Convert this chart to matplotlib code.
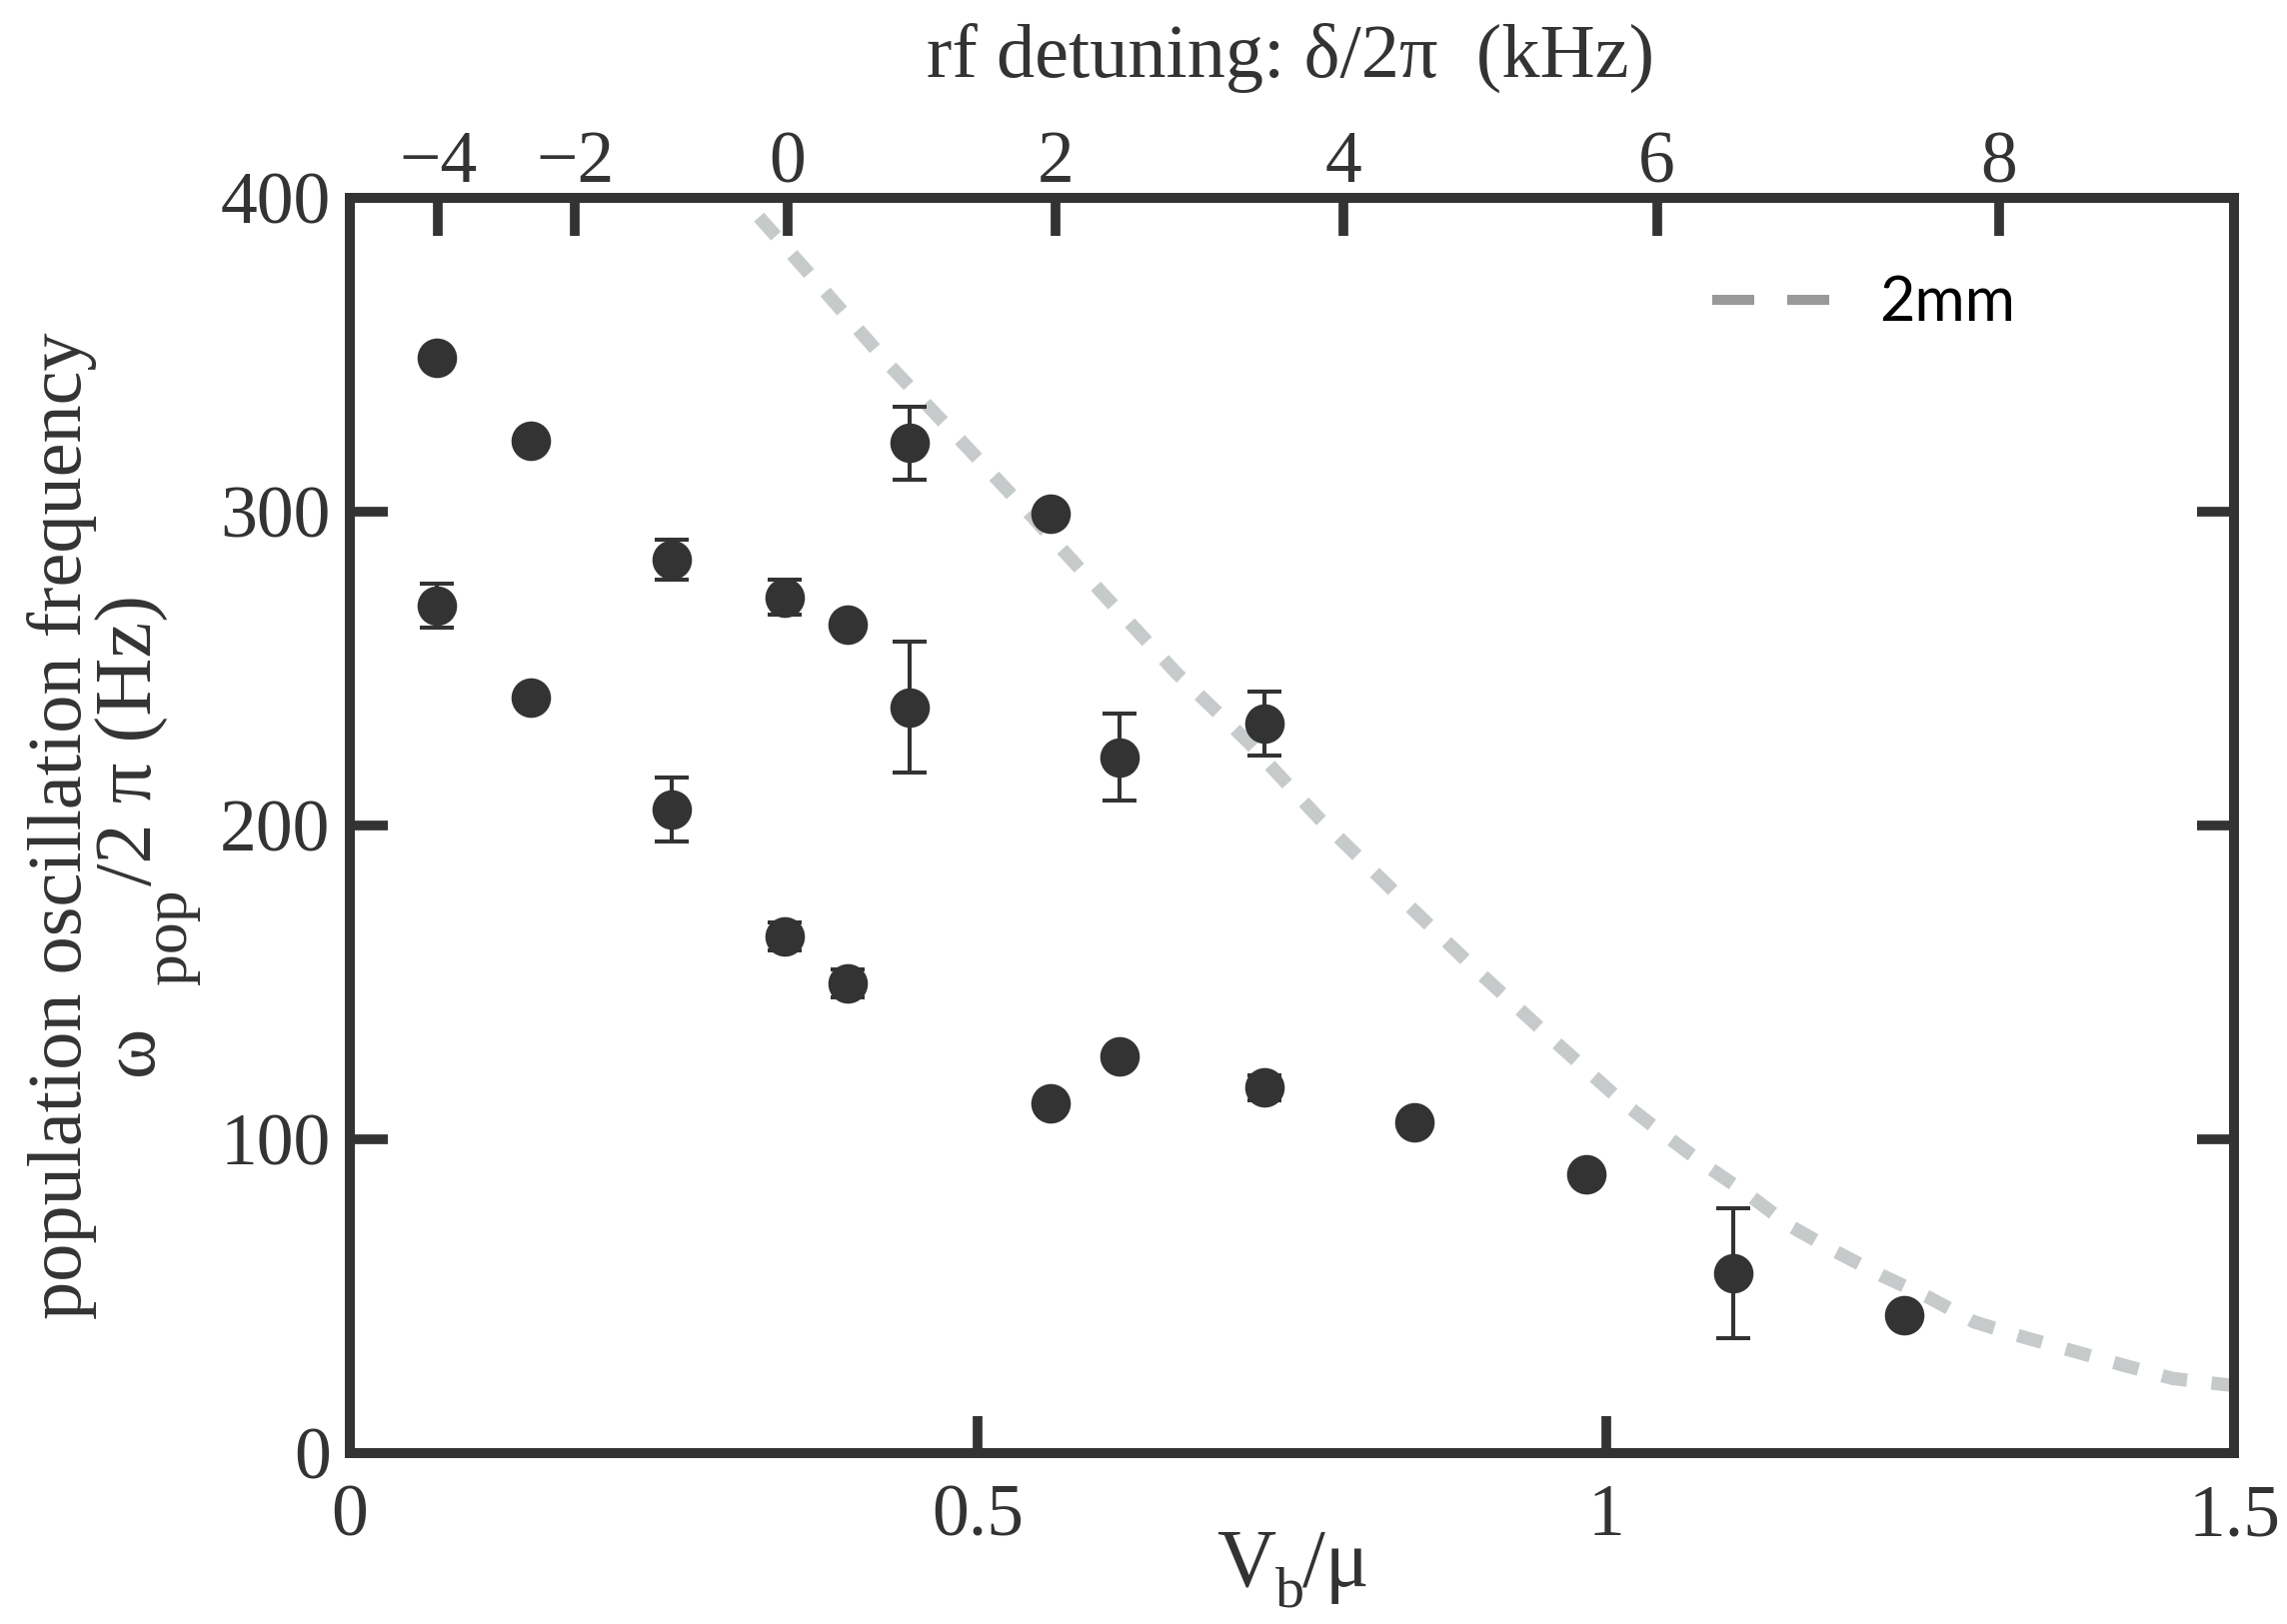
import numpy as np
import matplotlib.pyplot as plt
from matplotlib.lines import Line2D

plt.rcParams['font.family'] = 'Liberation Serif'

# measured points: V_b/mu, frequency (Hz), error bar (Hz)
vb = [0.069, 0.069, 0.144, 0.144, 0.256, 0.256, 0.346, 0.346, 0.396, 0.396, 0.446,
      0.446, 0.558, 0.613, 0.558, 0.613, 0.728, 0.728, 0.8475, 0.984, 1.101, 1.237]
freq = [349.1, 270.1, 322.7, 240.7, 284.7, 205.2, 272.7, 164.7, 263.9, 149.6, 321.9,
        237.7, 299.3, 221.8, 111.5, 126.5, 232.5, 116.5, 105.5, 88.9, 57.3, 43.9]
freq_err = [0, 7.1, 0, 0, 6.5, 10.2, 5.5, 4.5, 0, 4.5, 11.7,
            20.8, 0, 13.8, 0, 0, 10.3, 4.0, 0, 0, 20.8, 0]

# 2mm curve
curve_vb = [0.300, 0.322, 0.376, 0.430, 0.487, 0.543, 0.600, 0.658, 0.716, 0.772,
            0.831, 0.891, 0.952, 1.013, 1.046, 1.079, 1.113, 1.146, 1.182, 1.219,
            1.257, 1.293, 1.332, 1.373, 1.412, 1.451, 1.500]
curve_freq = [406.0, 395.6, 371.2, 346.5, 322.4, 298.5, 273.6, 248.6, 226.3, 202.1,
              179.1, 156.1, 133.8, 111.9, 101.6, 91.8, 82.5, 72.5, 64.4, 56.7,
              49.6, 41.8, 37.0, 32.4, 28.0, 23.8, 21.5]

# axes ticks
bottom_ticks = [0, 0.5, 1, 1.5]
bottom_labels = ['0', '0.5', '1', '1.5']
left_ticks = [0, 100, 200, 300, 400]
top_labels = ['\u22124', '\u22122', '0', '2', '4', '6', '8']
top_tick_at = [0.0704, 0.1794, 0.3483, 0.5620, 0.7910, 1.0405, 1.3127]

ink = '#333333'

fig = plt.figure(figsize=(22.88, 16.25), dpi=100)
ax = fig.add_axes([0.15297, 0.10523, 0.82387, 0.77292])

ax.plot(curve_vb, curve_freq, color='#c6cacb', lw=9.6, dashes=(1.9, 1.85), zorder=1)
ax.errorbar(vb, freq, yerr=freq_err, fmt='none', ecolor=ink, elinewidth=2.9,
            capsize=12, capthick=2.9, zorder=2)
ax.plot(vb, freq, 'o', color=ink, ms=27.5, mec=ink, zorder=3)

ax.set_xlim(0, 1.5)
ax.set_ylim(0, 400)
ax.set_xticks(bottom_ticks, bottom_labels)
ax.set_yticks(left_ticks)
ax.tick_params(direction='in', length=27, width=7, color=ink, labelcolor=ink,
               labelsize=53, pad=22)
ax.tick_params(axis='y', right=True, labelright=False, pad=14)
for s in ax.spines.values():
    s.set_linewidth(7.2)
    s.set_color(ink)

top = ax.twiny()
top.set_xlim(0, 1.5)
top.set_xticks(top_tick_at, top_labels)
top.tick_params(direction='in', length=27, width=7, color=ink, labelcolor=ink,
                labelsize=53, pad=0)
for s in top.spines.values():
    s.set_visible(False)

h = Line2D([], [], color='#999999', lw=7.2, dashes=(4.2, 3.3))
ax.legend([h], ['2mm'], loc='center left', bbox_to_anchor=(0.723, 0.916), frameon=False,
          prop={'family': 'Lato', 'size': 44}, handlelength=1.94, handletextpad=0.8,
          borderpad=0, borderaxespad=0)

# top label
fig.text(0.5642, 1 - 77 / 1625, 'rf detuning: \u03b4/2\u03c0  (kHz)', ha='center',
         va='baseline', fontsize=55, color=ink)

# bottom label  V_b/mu  (subscript set low, as in the original)
fig.text(0.5319, 0.0234, 'V', ha='left', va='baseline', fontsize=59, color=ink)
fig.text(0.5577, 0.0105, 'b', ha='left', va='baseline', fontsize=42, color=ink)
fig.text(0.5695, 0.0234, '/\u03bc', ha='left', va='baseline', fontsize=59, color=ink)

# left label, two lines
fig.text(0.0271, 0.4917, 'population oscillation frequency', rotation=90, ha='center',
         va='center', fontsize=55, color=ink)
rot = dict(rotation=90, rotation_mode='anchor', ha='center', va='baseline', color=ink)
fig.text(152 / 2288, 0.3532, '\u03c9', fontsize=55, **rot)
fig.text(186 / 2288, 0.4230, 'pop', fontsize=46, **rot)
fig.text(152 / 2288, 0.5440, '/2 \u03c0 (Hz)', fontsize=58, **rot)

fig.savefig('out.png', dpi=100)
